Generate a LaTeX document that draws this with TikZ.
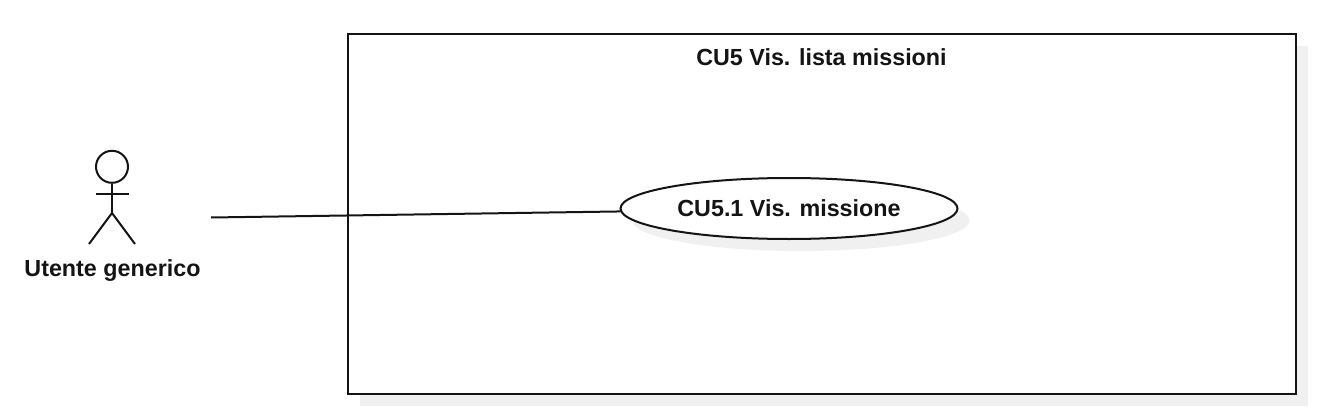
\documentclass[tikz,border=0pt]{standalone}
\usepackage{fontspec}
\setmainfont{Liberation Sans}
\usetikzlibrary{shapes.geometric}
\definecolor{shadowgray}{HTML}{F0F0F0}
\tikzset{
  lbl/.style={font=\fontsize{23.3}{28}\selectfont\bfseries, text=black!92, inner sep=0pt},
  ln/.style={draw=black!92, line width=2pt},
  sysbox/.style={rectangle, ln, fill=white, minimum width=948pt, minimum height=360pt, inner sep=0pt},
  sysshadow/.style={rectangle, fill=shadowgray, minimum width=948pt, minimum height=360pt, inner sep=0pt},
  ucase/.style={ellipse, ln, fill=white, minimum width=337pt, minimum height=61pt, inner sep=0pt},
  ucshadow/.style={ellipse, fill=shadowgray, minimum width=337pt, minimum height=61pt, inner sep=0pt},
  head/.style={circle, ln, minimum size=32pt, inner sep=0pt}
}
\begin{document}
\begin{tikzpicture}[x=1pt,y=-1pt]
\useasboundingbox (0,0) rectangle (1322,420);
% system boundary
\node[sysshadow] (sysS) at (833.5,226) {};
\node[sysbox] (sys) at (821.5,214) {};
\node[lbl] (title) at (821.5,57) {CU5 Vis. lista missioni};
% use case
\node[ucshadow] (ucS) at (801,220.5) {};
% actor
\node[head] (hd) at (112,166.8) {};
\coordinate (hip) at (112,213);
\coordinate (armL) at (96,193.7);
\coordinate (armR) at (129,193.7);
\coordinate (legL) at (89,244);
\coordinate (legR) at (135,244);
\draw[ln] (hd.south) -- (hip);
\draw[ln] (armL) -- (armR);
\draw[ln] (legL) -- (hip) -- (legR);
\node[lbl] (actor) at (112.5,270.5) {Utente generico};
\coordinate (assocStart) at (211,217.5);
\node[ucase] (uc) at (789,208.5) {};
\node[lbl] (uclbl) at (789,208) {CU5.1 Vis. missione};
\draw[ln] (assocStart) -- (uc.181.6);
\end{tikzpicture}
\end{document}
